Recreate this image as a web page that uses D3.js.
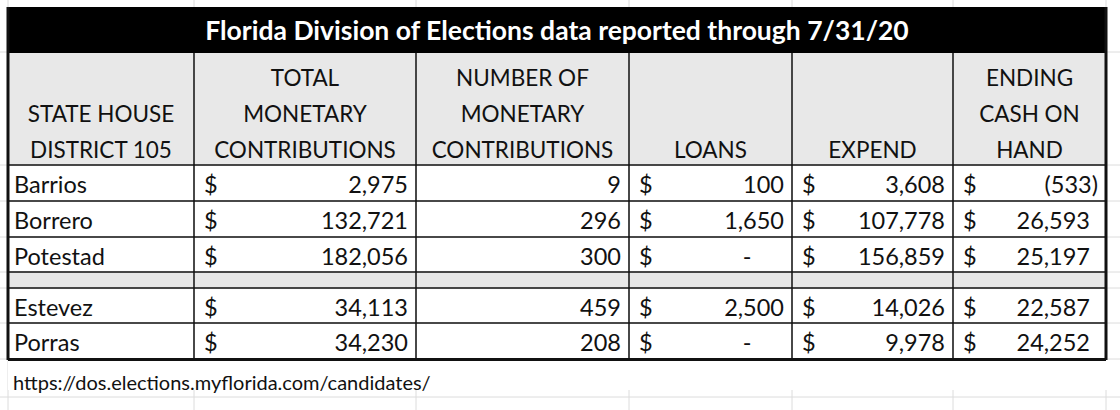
<!DOCTYPE html>
<html><head><meta charset="utf-8">
<script src="https://cdn.jsdelivr.net/npm/d3@7"></script>
<style>body{margin:0;background:#fff}svg{display:block}</style>
</head><body><svg id="c" width="1120" height="410"></svg>
<script>
const title = "Florida Division of Elections data reported through 7/31/20";
const headers = [["STATE HOUSE","DISTRICT 105"],["TOTAL","MONETARY","CONTRIBUTIONS"],["NUMBER OF","MONETARY","CONTRIBUTIONS"],["LOANS"],["EXPEND"],["ENDING","CASH ON","HAND"]];
const candidates = ["Barrios","Borrero","Potestad",null,"Estevez","Porras"];
const totalContrib = ["2,975","132,721","182,056",null,"34,113","34,230"];
const numContrib = ["9","296","300",null,"459","208"];
const loans = ["100","1,650","-",null,"2,500","-"];
const expend = ["3,608","107,778","156,859",null,"14,026","9,978"];
const cashOnHand = ["(533)","26,593","25,197",null,"22,587","24,252"];
const source = "https://dos.elections.myflorida.com/candidates/";

const svg = d3.select("#c");
const F = "Lato, 'Open Sans', sans-serif";
const colX = [8,194,416,629,792,953,1106];
const rowY = [165,201,237,272,288,323,359];
[52,165,201,237,272,288,323,359,397].forEach(y=>svg.append("line").attr("x1",0).attr("x2",1120).attr("y1",y).attr("y2",y).attr("stroke","#dcdcdc"));
colX.forEach(x=>svg.append("line").attr("x1",x).attr("x2",x).attr("y1",0).attr("y2",410).attr("stroke","#dcdcdc"));
svg.append("rect").attr("x",8).attr("y",360).attr("width",1100).attr("height",30).attr("fill","#fff");
svg.append("rect").attr("x",8).attr("y",7).attr("width",1098).attr("height",46).attr("fill","#000");
svg.append("text").attr("x",557).attr("y",40).attr("text-anchor","middle").attr("fill","#fff")
  .attr("font-family",F).attr("font-weight","bold").attr("font-size",26.5).text(title);
svg.append("rect").attr("x",8).attr("y",53).attr("width",1098).attr("height",112).attr("fill","#e8e8e8");
svg.append("rect").attr("x",8).attr("y",272).attr("width",1098).attr("height",16).attr("fill","#e8e8e8");
headers.forEach((h,i)=>{
  const cx=(colX[i]+colX[i+1])/2;
  h.forEach((t,j)=>{
    const y=158-(h.length-1-j)*36;
    svg.append("text").attr("x",cx).attr("y",y).attr("text-anchor","middle").attr("font-family",F).attr("font-size",22.5).attr("fill","#111").text(t);
  });
});
for(let r=0;r<rowY.length;r++) svg.append("line").attr("x1",8).attr("x2",1106).attr("y1",rowY[r]).attr("y2",rowY[r]).attr("stroke","#111").attr("stroke-width",1.5);
colX.forEach((x,i)=>svg.append("line").attr("x1",x).attr("x2",x).attr("y1",i==0||i==6?7:53).attr("y2",360).attr("stroke","#111").attr("stroke-width",i==0||i==6?3:1.5));
svg.append("line").attr("x1",8).attr("x2",1106).attr("y1",359.5).attr("y2",359.5).attr("stroke","#111").attr("stroke-width",3);
const rowTop = [165,201,237,272,288,323];
const cols=[totalContrib,numContrib,loans,expend,cashOnHand];
candidates.forEach((c,r)=>{
  if(c===null) return;
  const y=rowTop[r]+28;
  const t=(x,s,a)=>svg.append("text").attr("x",x).attr("y",y).attr("text-anchor",a).attr("font-family",F).attr("font-size",23.5).attr("fill","#111").text(s);
  t(14,c,"start");
  cols.forEach((arr,k)=>{
    const ci=k+1; const v=arr[r];
    if(k!==1) t(colX[ci]+10,"$","start");
    let rx=colX[ci+1]-8;
    if(k===4 && !v.endsWith(")")) rx-=8;
    if(v==="-") t(colX[ci+1]-45,"-","middle"); else t(rx,v,"end");
  });
});
svg.append("text").attr("x",13).attr("y",390).attr("font-family",F).attr("font-size",20).attr("fill","#111").text(source);
</script></body></html>
